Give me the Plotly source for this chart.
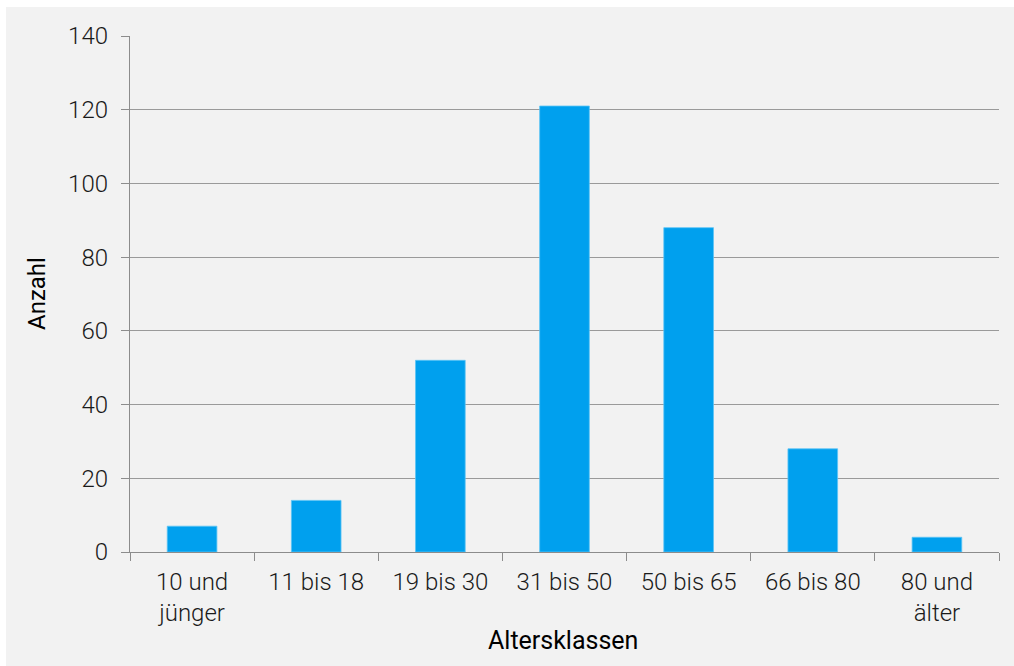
import plotly.graph_objects as go

categories = ["10 und<br>jünger", "11 bis 18", "19 bis 30", "31 bis 50", "50 bis 65", "66 bis 80", "80 und<br>älter"]
counts = [7, 14, 52, 121, 88, 28, 4]
y_ticks = [0, 20, 40, 60, 80, 100, 120, 140]

W, H = 1014, 666
ML, MR, MT, MB = 130, 15, 36, 114
PW, PH = W - ML - MR, H - MT - MB

FONT = "Roboto"
FS = 24
fig = go.Figure(go.Bar(
    x=categories, y=counts, width=0.4,
    marker=dict(color="#00A0EE", line=dict(color="#5CC4F5", width=0.8)),
))

def px_x(p):
    return (p - ML) / PW

def px_y(p):
    return (H - MB - p) / PH

fig.update_layout(
    width=W, height=H,
    margin=dict(l=ML, r=MR, t=MT, b=MB, pad=0),
    paper_bgcolor="white",
    plot_bgcolor="rgba(0,0,0,0)",
    showlegend=False,
    font=dict(family=FONT, size=FS, color="#1A1A1A", weight=300),
    shapes=[dict(type="rect", xref="paper", yref="paper",
                 x0=px_x(6), x1=px_x(W + 5), y0=px_y(H + 5), y1=px_y(7),
                 fillcolor="#F2F2F2", line=dict(width=0), layer="below")],
    xaxis=dict(
        tickson="boundaries", ticks="outside", ticklen=8, tickcolor="#8C8C8C", tickwidth=1.3,
        showline=True, linecolor="#8C8C8C", linewidth=1.3,
        showgrid=False, ticklabelstandoff=8,
        tickfont=dict(family=FONT, size=FS, color="#1A1A1A", weight=300),
        range=[-0.5, 6.5],
    ),
    yaxis=dict(
        range=[0, 140], tickvals=y_ticks, ticks="outside", ticklen=8,
        tickcolor="#8C8C8C", tickwidth=1.3,
        showline=True, linecolor="#8C8C8C", linewidth=1.3,
        showgrid=True, gridcolor="#9A9A9A", gridwidth=1.3,
        zeroline=False, ticklabelstandoff=8,
        tickfont=dict(family=FONT, size=FS, color="#1A1A1A", weight=300),
    ),
    annotations=[
        dict(text="Anzahl", xref="paper", yref="paper", x=px_x(37), y=px_y(294),
             xanchor="center", yanchor="middle", textangle=-90, showarrow=False,
             font=dict(family=FONT, size=FS, color="black", weight=400)),
        dict(text="Altersklassen", xref="paper", yref="paper", x=px_x(563), y=px_y(640),
             xanchor="center", yanchor="middle", showarrow=False,
             font=dict(family=FONT, size=25, color="black", weight=400)),
    ],
)

fig.write_html("out.html")
